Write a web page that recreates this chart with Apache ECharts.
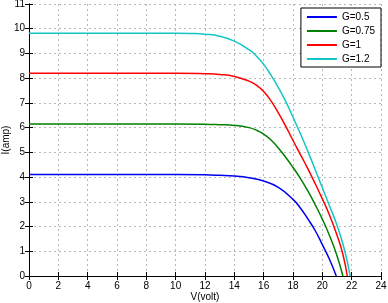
<!DOCTYPE html>
<html>
<head>
<meta charset="utf-8">
<script src="https://cdn.jsdelivr.net/npm/echarts@6/dist/echarts.min.js"></script>
<style>
  html, body { margin: 0; padding: 0; background: #fff; }
</style>
</head>
<body>
<div id="ivChart" style="width:388px;height:303px;"></div>
<script>
// legend names
const seriesNames = ['G=0.5', 'G=0.75', 'G=1', 'G=1.2'];

// V (volt) / I (amp) points
const vG05 = [0, 10, 12, 13, 14, 15, 16, 17, 18, 18.5, 19, 19.5, 20, 20.5, 20.95];
const iG05 = [4.1, 4.1, 4.09, 4.07, 4.04, 3.97, 3.84, 3.58, 3.1, 2.75, 2.32, 1.85, 1.27, 0.66, 0];

const vG075 = [0, 10, 12, 13, 14, 15, 15.5, 16, 16.5, 17, 17.5, 18, 18.5, 19, 19.5, 20, 20.5, 21, 21.4];
const iG075 = [6.15, 6.15, 6.14, 6.12, 6.09, 6.0, 5.9, 5.74, 5.5, 5.18, 4.8, 4.39, 3.95, 3.45, 2.9, 2.3, 1.62, 0.82, 0];

const vG1 = [0, 10, 12, 13, 14, 15, 15.5, 16, 16.5, 17, 17.5, 18, 18.5, 19, 19.5, 20, 20.5, 21, 21.4, 21.7];
const iG1 = [8.2, 8.2, 8.18, 8.15, 8.07, 7.88, 7.72, 7.46, 7.08, 6.6, 6.06, 5.48, 4.92, 4.35, 3.75, 3.12, 2.45, 1.65, 0.88, 0];

const vG12 = [0, 10, 11, 12, 13, 14, 15, 15.5, 16, 16.5, 17, 17.5, 18, 18.5, 19, 19.5, 20, 20.5, 21, 21.5, 21.9];
const iG12 = [9.82, 9.82, 9.81, 9.78, 9.7, 9.5, 9.15, 8.9, 8.56, 8.12, 7.62, 7.06, 6.42, 5.76, 5.06, 4.32, 3.57, 2.82, 2.05, 1.08, 0];

const colors = ['#0000f0', '#008000', '#ff0000', '#14c6c6'];

function pairs(v, i) {
  return v.map((x, k) => [x, i[k]]);
}
const curves = [pairs(vG05, iG05), pairs(vG075, iG075), pairs(vG1, iG1), pairs(vG12, iG12)];

let myChart = echarts.init(document.getElementById('ivChart'));
const labelFont = { color: '#000', fontSize: 10, fontFamily: 'Liberation Sans, Arial, sans-serif' };

myChart.setOption({
  animation: false,
  color: colors,
  grid: { left: 29, right: 7, top: 4, bottom: 27, outerBoundsMode: 'none', containLabel: false },
  legend: {
    data: seriesNames,
    orient: 'vertical',
    right: 7,
    top: 8,
    backgroundColor: '#fff',
    borderColor: '#000',
    borderWidth: 1,
    borderRadius: 0,
    padding: [3, 6, 2, 6],
    itemWidth: 30,
    itemHeight: 2,
    itemGap: 2,
    itemTextGap: 4,
    icon: 'rect',
    textStyle: Object.assign({ lineHeight: 12 }, labelFont)
  },
  xAxis: [
    {
      type: 'value', min: 0, max: 24, interval: 2,
      name: 'V(volt)', nameLocation: 'middle', nameGap: 16, nameMoveOverlap: false,
      nameTextStyle: labelFont,
      axisLine: { lineStyle: { color: '#000', width: 1 } },
      axisTick: { inside: true, length: 4, lineStyle: { color: '#000' } },
      axisLabel: Object.assign({ margin: 5 }, labelFont),
      splitLine: { show: true, lineStyle: { color: '#b8b8b8', type: [2, 3], width: 1 } }
    },
    {
      type: 'value', min: 0, max: 24, interval: 2, position: 'top',
      axisLine: { show: true, lineStyle: { color: '#000', width: 1 } },
      axisTick: { inside: true, length: 4, lineStyle: { color: '#000' } },
      axisLabel: { show: false },
      splitLine: { show: false }
    }
  ],
  yAxis: [
    {
      type: 'value', min: 0, max: 11, interval: 1,
      name: 'I(amp)', nameLocation: 'middle', nameGap: 18, nameMoveOverlap: false,
      nameTextStyle: labelFont,
      axisLine: { show: true, lineStyle: { color: '#000', width: 1 } },
      axisTick: { show: true, inside: true, length: 4, lineStyle: { color: '#000' } },
      axisLabel: Object.assign({ margin: 4 }, labelFont),
      splitLine: { show: true, lineStyle: { color: '#b8b8b8', type: [2, 3], width: 1 } }
    },
    {
      type: 'value', min: 0, max: 11, interval: 1, position: 'right',
      axisLine: { show: true, lineStyle: { color: '#000', width: 1 } },
      axisTick: { show: true, inside: true, length: 4, lineStyle: { color: '#000' } },
      axisLabel: { show: false },
      splitLine: { show: false }
    }
  ],
  series: seriesNames.map((name, k) => ({
    name: name,
    type: 'line',
    data: curves[k],
    smooth: 0.5,
    showSymbol: false,
    lineStyle: { width: 1.5, color: colors[k] }
  }))
});
</script>
</body>
</html>
